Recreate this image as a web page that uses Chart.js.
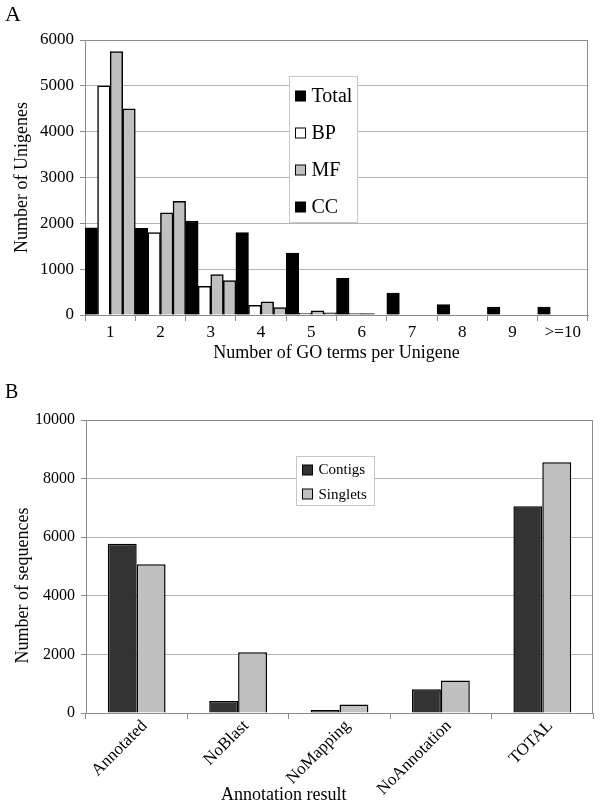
<!DOCTYPE html>
<html>
<head>
<meta charset="utf-8">
<script src="https://cdn.jsdelivr.net/npm/chart.js@4.4.1/dist/chart.umd.min.js"></script>
<style>
body{margin:0;background:#fff;font-family:"Liberation Serif","Times New Roman",serif;}
.panel{position:relative;width:600px;}
.panel canvas{display:block;}
.tag{position:absolute;left:5px;color:#000;}
</style>
</head>
<body>
<div class="panel" style="height:370px">
  <div class="tag" style="top:3px;font-size:22px;line-height:22px">A</div>
  <canvas id="goChart" width="600" height="370"></canvas>
</div>
<div class="panel" style="height:436px">
  <div class="tag" style="top:11px;font-size:20px;line-height:20px">B</div>
  <canvas id="annChart" width="600" height="436"></canvas>
</div>
<script>
// panel A: GO terms per unigene
const goCategories = ['1','2','3','4','5','6','7','8','9','>=10'];
const goSeries = ['Total','BP','MF','CC'];
const goTotal = [1900,1890,2050,1800,1350,800,480,225,175,175];
const goBP    = [5000,1800,625,210,35,30,0,0,0,0];
const goMF    = [5750,2230,880,290,90,30,0,0,0,0];
const goCC    = [4500,2480,750,160,45,0,0,0,0,0];
const goTicks = [0,1000,2000,3000,4000,5000,6000];

// panel B: annotation result
const annCategories = ['Annotated','NoBlast','NoMapping','NoAnnotation','TOTAL'];
const annSeries = ['Contigs','Singlets'];
const annContigs  = [5780,410,100,810,7060];
const annSinglets = [5080,2070,290,1110,8560];
const annTicks = [0,2000,4000,6000,8000,10000];

const FONT = '"Liberation Serif","Times New Roman",serif';
const GRID = '#b4b4b4';
const AXIS = '#8c8c8c';

// frame on top/right, legend box, and optional free titles
const extras = {
    id: 'extras',
    beforeDatasetsDraw(chart, args, o){
        const a = chart.chartArea, ctx = chart.ctx;
        ctx.save();
        ctx.strokeStyle = AXIS; ctx.lineWidth = 1;
        ctx.beginPath();
        ctx.moveTo(a.left, Math.round(a.top)+0.5);
        ctx.lineTo(Math.round(a.right)-0.5, Math.round(a.top)+0.5);
        ctx.lineTo(Math.round(a.right)-0.5, a.bottom);
        ctx.stroke();
        ctx.restore();
    },
    afterDraw(chart, args, o){
        const a = chart.chartArea, ctx = chart.ctx, lg = o.legend;
        ctx.save();
        const bx = Math.round(a.left + lg.x)+0.5, by = Math.round(a.top + lg.y)+0.5;
        ctx.fillStyle = '#fff';
        ctx.fillRect(bx, by, lg.w, lg.h);
        ctx.strokeStyle = '#c8c8c8'; ctx.lineWidth = 1;
        ctx.strokeRect(bx, by, lg.w, lg.h);
        ctx.font = lg.size + 'px ' + FONT;
        ctx.textBaseline = 'middle';
        chart.data.datasets.forEach((ds, i) => {
            const cy = by + lg.first + i*lg.step;
            ctx.fillStyle = lg.colors[i];
            ctx.fillRect(bx + lg.sx, Math.round(cy - lg.sw/2), lg.sw, lg.sw);
            ctx.strokeStyle = '#000';
            ctx.strokeRect(bx + lg.sx, Math.round(cy - lg.sw/2), lg.sw, lg.sw);
            ctx.fillStyle = '#000';
            ctx.fillText(ds.label, bx + lg.tx, cy + 1);
        });
        (o.titles || []).forEach(t => {
            ctx.save();
            ctx.font = t.size + 'px ' + FONT;
            ctx.fillStyle = '#000';
            ctx.textAlign = 'center'; ctx.textBaseline = 'middle';
            const x = t.x != null ? t.x : a.left + t.fx*(a.right - a.left);
            const y = t.y != null ? t.y : a.top + t.fy*(a.bottom - a.top);
            ctx.translate(x, y);
            if(t.rot) ctx.rotate(t.rot);
            ctx.fillText(t.text, 0, 0);
            ctx.restore();
        });
        ctx.restore();
    }
};

function bar(label, data, fill){
    return { label, data, backgroundColor: fill, borderColor: '#000', borderWidth: 1.5 };
}
const plain = v => String(v);

new Chart(document.getElementById('goChart'), {
    type: 'bar',
    data: {
        labels: goCategories,
        datasets: [
            bar(goSeries[0], goTotal, '#000'),
            bar(goSeries[1], goBP, '#fff'),
            bar(goSeries[2], goMF, '#c0c0c0'),
            bar(goSeries[3], goCC, '#c0c0c0')
        ]
    },
    options: {
        responsive: false, animation: false,
        layout: { padding: { top: 40, right: 12, left: 0, bottom: 0 } },
        datasets: { bar: { barPercentage: 1, categoryPercentage: 1 } },
        plugins: {
            legend: { display: false }, tooltip: { enabled: false },
            extras: {
                legend: { x: 204, y: 36, w: 68, h: 146, first: 19, step: 37, sx: 6, sw: 10, tx: 22, size: 20,
                          colors: ['#000','#fff','#c0c0c0','#000'] }
            }
        },
        scales: {
            x: {
                grid: { offset: true, drawOnChartArea: false, color: AXIS, tickLength: 6 },
                border: { color: AXIS },
                ticks: { color: '#000', font: { family: FONT, size: 17 }, padding: 1, maxRotation: 0 },
                title: { display: true, text: 'Number of GO terms per Unigene', color: '#000',
                         font: { family: FONT, size: 18 }, padding: { top: 0, bottom: 6 } },
                afterFit: s => { s.height = 55; }
            },
            y: {
                min: 0, max: 6000,
                afterBuildTicks: s => { s.ticks = goTicks.map(v => ({ value: v })); },
                grid: { color: GRID, tickColor: AXIS, tickLength: 5 },
                border: { color: AXIS },
                ticks: { color: '#000', font: { family: FONT, size: 17 }, padding: 6, callback: plain },
                title: { display: true, text: 'Number of Unigenes', color: '#000',
                         font: { family: FONT, size: 18 }, padding: { top: 11, bottom: 0 } },
                afterFit: s => { s.width = 85; }
            }
        }
    },
    plugins: [extras]
});

new Chart(document.getElementById('annChart'), {
    type: 'bar',
    data: {
        labels: annCategories,
        datasets: [
            bar(annSeries[0], annContigs, '#333333'),
            bar(annSeries[1], annSinglets, '#c0c0c0')
        ]
    },
    options: {
        responsive: false, animation: false,
        layout: { padding: { top: 50, right: 7, left: 0, bottom: 0 } },
        datasets: { bar: { barPercentage: 1, categoryPercentage: 0.57 } },
        plugins: {
            legend: { display: false }, tooltip: { enabled: false },
            extras: {
                legend: { x: 210, y: 36, w: 78, h: 49, first: 13, step: 24.5, sx: 6, sw: 10, tx: 22, size: 15,
                          colors: ['#333333','#c0c0c0'] },
                titles: [
                    { text: 'Annotation result', fx: 0.39, y: 425, size: 18 },
                    { text: 'Number of sequences', x: 23.5, fy: 0.565, size: 18, rot: -Math.PI/2 }
                ]
            }
        },
        scales: {
            x: {
                grid: { offset: true, drawOnChartArea: false, color: AXIS, tickLength: 6 },
                border: { color: AXIS },
                ticks: { color: '#000', font: { family: FONT, size: 17 }, padding: -3, labelOffset: 8,
                         minRotation: 45, maxRotation: 45 },
                afterFit: s => { s.height = 93; }
            },
            y: {
                min: 0, max: 10000,
                afterBuildTicks: s => { s.ticks = annTicks.map(v => ({ value: v })); },
                grid: { color: GRID, tickColor: AXIS, tickLength: 5 },
                border: { color: AXIS },
                ticks: { color: '#000', font: { family: FONT, size: 16 }, padding: 6, callback: plain },
                afterFit: s => { s.width = 86; }
            }
        }
    },
    plugins: [extras]
});
</script>
</body>
</html>
